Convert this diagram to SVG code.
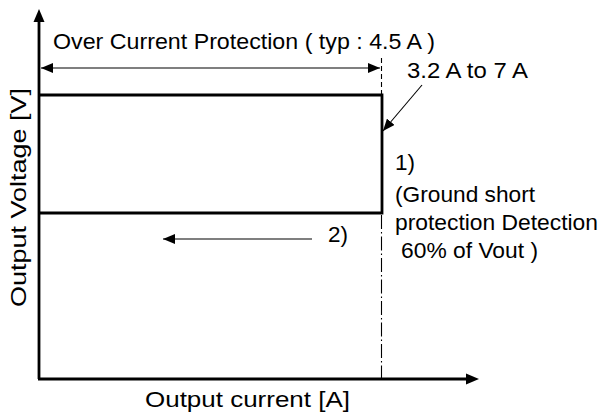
<svg xmlns="http://www.w3.org/2000/svg" width="601" height="412" viewBox="0 0 601 412">
<style>
text{font-family:"Liberation Sans",Arial,sans-serif;fill:#000;font-size:22.5px}
.thick{stroke:#000;stroke-width:2.8;fill:none}
.thin{stroke:#000;stroke-width:1.1;fill:none}
.dash{stroke:#000;stroke-width:1.1;fill:none;stroke-dasharray:5 3}
.dashdot{stroke:#000;stroke-width:1.1;fill:none;stroke-dasharray:14 3 1.5 3}
</style>
<defs>
<marker id="ah" viewBox="0 0 12 10" refX="12" refY="5" markerWidth="12" markerHeight="10" markerUnits="userSpaceOnUse" orient="auto"><path d="M0,0 L12,5 L0,10 Z" fill="#000"/></marker>
<marker id="ahs" viewBox="0 0 12 10" refX="0" refY="5" markerWidth="12" markerHeight="10" markerUnits="userSpaceOnUse" orient="auto"><path d="M12,0 L0,5 L12,10 Z" fill="#000"/></marker>
</defs>
<rect width="601" height="412" fill="#fff"/>
<g id="axes">
<line class="thick" x1="39" y1="379" x2="39" y2="20"/>
<path d="M33.5,22 L39,9 L44.5,22 Z" fill="#000"/>
<line class="thick" x1="38" y1="379" x2="468" y2="379"/>
<path d="M466,373.5 L479,379 L466,384.5 Z" fill="#000"/>
</g>
<g id="characteristic">
<polyline class="thick" points="39,95 382,95 382,213 39,213"/>
</g>
<g id="limit-line">
<line class="dash" x1="381.5" y1="58" x2="381.5" y2="95"/>
<line class="dashdot" x1="381.5" y1="215" x2="381.5" y2="378"/>
</g>
<g id="connectors">
<line class="thin" x1="41" y1="68" x2="380" y2="68" marker-start="url(#ahs)" marker-end="url(#ah)"/>
<line class="thin" x1="422" y1="85" x2="383" y2="131" marker-end="url(#ah)"/>
<line class="thin" x1="312" y1="239" x2="163" y2="239" marker-end="url(#ah)"/>
</g>
<g id="label-ocp"><text x="53" y="49" textLength="382" lengthAdjust="spacingAndGlyphs">Over Current Protection ( typ : 4.5 A )</text></g>
<g id="label-range"><text x="407" y="78" textLength="121" lengthAdjust="spacingAndGlyphs">3.2 A to 7 A</text></g>
<g id="label-1">
<text x="395" y="170">1)</text>
<text x="395" y="202" textLength="140" lengthAdjust="spacingAndGlyphs">(Ground short</text>
<text x="395" y="230" textLength="203" lengthAdjust="spacingAndGlyphs">protection Detection</text>
<text x="401" y="258" textLength="137" lengthAdjust="spacingAndGlyphs">60% of Vout )</text>
</g>
<g id="label-2"><text x="328" y="242">2)</text></g>
<g id="label-x"><text x="145" y="407" font-size="25" textLength="205" lengthAdjust="spacingAndGlyphs">Output current [A]</text></g>
<g id="label-y"><text transform="translate(26,307) rotate(-90)" x="0" y="0" font-size="26" textLength="219" lengthAdjust="spacingAndGlyphs">Output Voltage [V]</text></g>
</svg>
